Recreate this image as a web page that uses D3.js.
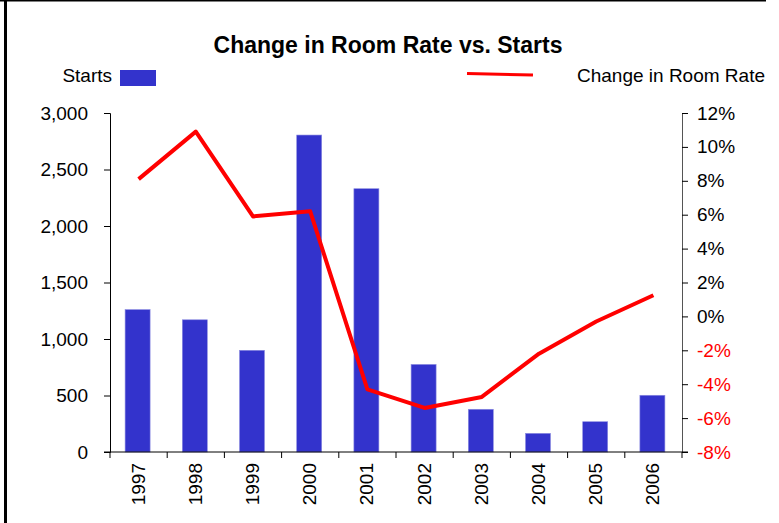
<!doctype html>
<html>
<head>
<script src="https://cdn.jsdelivr.net/npm/d3@7"></script>
<style>
  body { margin: 0; background: #fff; }
  svg text { font-family: "Liberation Sans", Arial, sans-serif; }
</style>
</head>
<body>
<div id="container"></div>
<script>
var years = ["1997","1998","1999","2000","2001","2002","2003","2004","2005","2006"];
var starts = [1260, 1170, 900, 2805, 2330, 775, 378, 165, 268, 502];
var rateChange = [8.1, 10.9, 5.9, 6.2, -4.3, -5.4, -4.75, -2.2, -0.3, 1.25];
var leftTicks = [0, 500, 1000, 1500, 2000, 2500, 3000];
var rightTicks = [-8, -6, -4, -2, 0, 2, 4, 6, 8, 10, 12];

var W = 779, H = 523;
var plotL = 110, plotR = 682, plotT = 113, plotB = 452;

var svg = d3.select("#container").append("svg")
  .attr("width", W).attr("height", H);

// frame lines
svg.append("line").attr("x1", 0).attr("x2", 766).attr("y1", 0.5).attr("y2", 0.5)
  .attr("stroke", "#000").attr("stroke-width", 2);
svg.append("line").attr("x1", 5.5).attr("x2", 5.5).attr("y1", 0).attr("y2", H)
  .attr("stroke", "#000").attr("stroke-width", 3);

var x = d3.scaleBand().domain(years).range([plotL, plotR]).paddingInner(0).paddingOuter(0);
var yL = d3.scaleLinear().domain([0, 3000]).range([plotB, plotT]);
var yR = d3.scaleLinear().domain([-8, 12]).range([plotB, plotT]);

// bars
var bw = 25;
svg.selectAll("rect.bar").data(starts).enter().append("rect")
  .attr("class", "bar")
  .attr("x", function(d, i){ return x(years[i]) + x.bandwidth()/2 - bw/2 - 1; })
  .attr("y", function(d){ return yL(d); })
  .attr("width", bw)
  .attr("height", function(d){ return plotB - yL(d); })
  .attr("fill", "#3333cc")
  .attr("stroke", "#8c8ce0").attr("stroke-width", 0.6);

// left axis
var gL = svg.append("g").attr("transform", "translate(" + plotL + ",0)")
  .call(d3.axisLeft(yL).tickValues(leftTicks).tickSize(6).tickPadding(16)
    .tickFormat(d3.format(",")));
gL.select(".domain").attr("stroke", "#000");
gL.selectAll("text").attr("font-size", 19).attr("fill", "#000");

// right axis
var gR = svg.append("g").attr("transform", "translate(" + plotR + ",0)")
  .call(d3.axisRight(yR).tickValues(rightTicks).tickSize(6).tickPadding(9)
    .tickFormat(function(d){ return d + "%"; }));
gR.select(".domain").attr("stroke", "#555");
gR.selectAll("text").attr("font-size", 19)
  .attr("fill", function(d){ return d < 0 ? "#ff0000" : "#000"; });

// bottom axis
var gB = svg.append("g").attr("transform", "translate(0," + plotB + ")");
gB.append("line").attr("x1", plotL - 6).attr("x2", plotR + 6)
  .attr("y1", 0).attr("y2", 0).attr("stroke", "#000");
var bTicks = years.map(function(y){ return x(y); }).concat([plotR]);
gB.selectAll("line.tk").data(bTicks).enter().append("line")
  .attr("class", "tk")
  .attr("x1", function(d){ return d; }).attr("x2", function(d){ return d; })
  .attr("y1", 0).attr("y2", 6).attr("stroke", "#000");
gB.selectAll("text").data(years).enter().append("text")
  .attr("transform", function(d){ return "translate(" + (x(d) + x.bandwidth()/2 + 6) + ",11) rotate(-90)"; })
  .attr("text-anchor", "end")
  .attr("font-size", 19)
  .text(function(d){ return d; });

// line
var line = d3.line()
  .x(function(d, i){ return x(years[i]) + x.bandwidth()/2; })
  .y(function(d){ return yR(d); });
svg.append("path").datum(rateChange)
  .attr("d", line)
  .attr("fill", "none").attr("stroke", "#ff0000").attr("stroke-width", 4)
  .attr("stroke-linejoin", "round");

// title
svg.append("text").attr("x", 388).attr("y", 53).attr("text-anchor", "middle")
  .attr("font-size", 23).attr("font-weight", "bold").text("Change in Room Rate vs. Starts");

// legend
svg.append("text").attr("x", 112).attr("y", 82).attr("text-anchor", "end")
  .attr("font-size", 19).text("Starts");
svg.append("rect").attr("x", 120).attr("y", 70).attr("width", 36).attr("height", 16)
  .attr("fill", "#3333cc");
svg.append("line").attr("x1", 467).attr("x2", 533).attr("y1", 73.5).attr("y2", 75)
  .attr("stroke", "#ff0000").attr("stroke-width", 3);
svg.append("text").attr("x", 577).attr("y", 82)
  .attr("font-size", 19).text("Change in Room Rate");
</script>
</body>
</html>
